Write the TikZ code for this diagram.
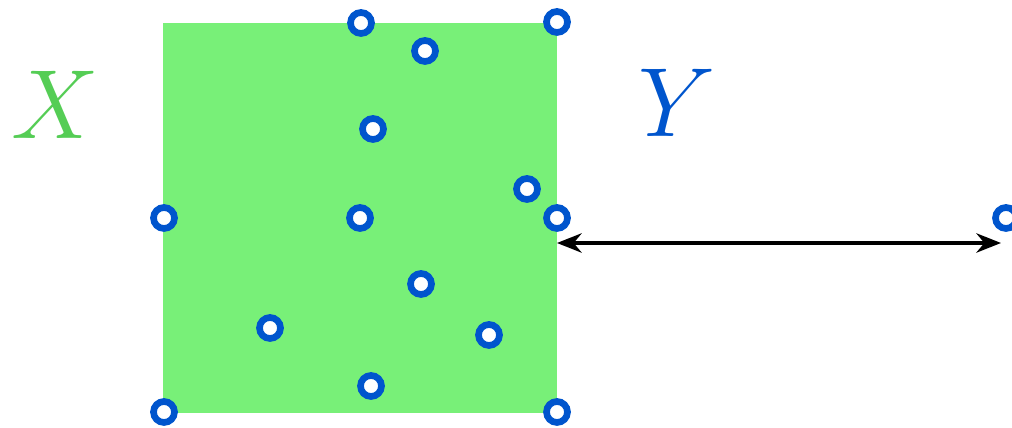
\documentclass[tikz,border=0pt]{standalone}
\usetikzlibrary{arrows.meta}
\definecolor{setgreen}{RGB}{120,240,120}
\definecolor{labelgreen}{RGB}{85,205,85}
\definecolor{ptblue}{RGB}{0,85,205}
\begin{document}
\begin{tikzpicture}[x=0.02cm, y=-0.02cm,
  pt/.style={circle, draw=ptblue, fill=white, line width=3.8pt, inner sep=0pt, minimum size=0.42cm},
  setlabel/.style={font=\Huge, scale=2.25}]
\useasboundingbox (0,0) rectangle (1012,428);

% --- the set X (green square) ---
\fill[setgreen] (163,23) rectangle (557,413);
\node[setlabel, text=labelgreen] (labX) at (55,105) {$X$};
\node[setlabel, text=ptblue] (labY) at (677,103) {$Y$};

% --- distance arrow from X to the far point ---
\coordinate (edge) at (557,243);
\coordinate (far) at (1001,243);
\draw[{Stealth[length=14pt,width=11pt]}-{Stealth[length=14pt,width=11pt]}, line width=2.2pt]
  (edge) -- (far);

% --- sample points ---
\foreach \px/\py/\nm in {361/23/p1, 557/22/p2, 425/51/p3, 373/129/p4, 527/189/p5,
  164/218/p6, 360/218/p7, 557/218/p8, 1006/218/p9, 421/284/p10, 270/328/p11,
  489/335/p12, 371/386/p13, 164/412/p14, 557/412/p15} {
  \node[pt] (\nm) at (\px,\py) {};
}
\end{tikzpicture}
\end{document}
